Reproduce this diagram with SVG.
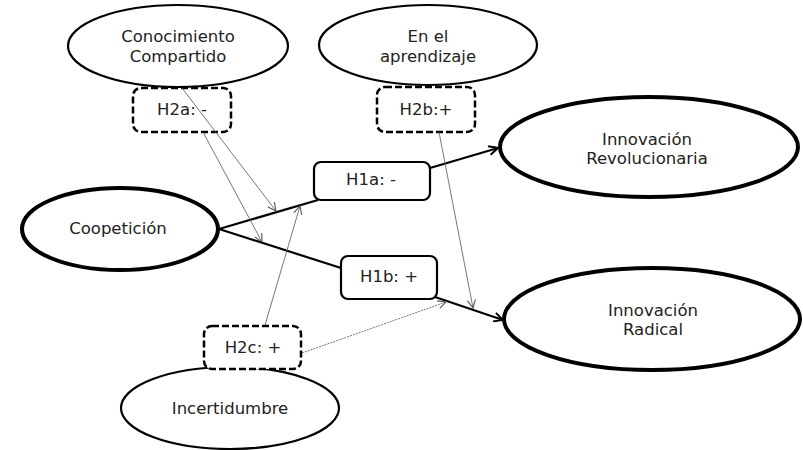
<svg xmlns="http://www.w3.org/2000/svg" width="803" height="450" viewBox="0 0 803 450">
  <style>
    text { font-family: "DejaVu Sans", Verdana, sans-serif; font-size: 16.5px; fill: #222; text-anchor: middle; }
    .ell { fill: #fff; stroke: #000; stroke-width: 2.2; }
    .ell-bold { fill: #fff; stroke: #000; stroke-width: 4; }
    .box { fill: #fff; stroke: #000; stroke-width: 2.2; }
    .box-dash { fill: #fff; stroke: #000; stroke-width: 2.5; stroke-dasharray: 7 3; }
    .main { fill: none; stroke: #000; stroke-width: 2.2; }
    .mod { fill: none; stroke: #666; stroke-width: 0.9; }
    .mod-dot { fill: none; stroke: #777; stroke-width: 1; stroke-dasharray: 2 1; }
  </style>
  <defs>
    <marker id="arrowMain" markerWidth="12" markerHeight="12" refX="10" refY="6" orient="auto" markerUnits="userSpaceOnUse">
      <path d="M1,1.5 L10,6 L1,10.5" fill="none" stroke="#000" stroke-width="2"/>
    </marker>
    <marker id="arrowThin" markerWidth="12" markerHeight="12" refX="10" refY="6" orient="auto" markerUnits="userSpaceOnUse">
      <path d="M2,2 L10,6 L2,10" fill="none" stroke="#555" stroke-width="1.1"/>
    </marker>
  </defs>

  <!-- connectors -->
  <g id="connectors">
    <line class="main" x1="219" y1="229" x2="318" y2="200"/>
    <line class="main" x1="430" y1="168" x2="498" y2="148" marker-end="url(#arrowMain)"/>
    <line class="main" x1="219" y1="229" x2="341" y2="268"/>
    <line class="main" x1="435" y1="297" x2="503" y2="320" marker-end="url(#arrowMain)"/>
  </g>

  <!-- nodes -->
  <g id="conocimiento">
    <ellipse class="ell" cx="178" cy="46" rx="110" ry="41"/>
    <text x="178" y="42">Conocimiento</text>
    <text x="178" y="62">Compartido</text>
  </g>
  <g id="aprendizaje">
    <ellipse class="ell" cx="428" cy="45" rx="109" ry="40"/>
    <text x="428" y="42">En el</text>
    <text x="428" y="62">aprendizaje</text>
  </g>
  <g id="coopeticion">
    <ellipse class="ell-bold" cx="120" cy="229" rx="98" ry="41"/>
    <text x="118" y="234">Coopetición</text>
  </g>
  <g id="incertidumbre">
    <ellipse class="ell" cx="230" cy="408" rx="109" ry="41"/>
    <text x="230" y="414">Incertidumbre</text>
  </g>
  <g id="innovacion-revolucionaria">
    <ellipse class="ell-bold" cx="649" cy="147" rx="149" ry="50"/>
    <text x="647" y="145">Innovación</text>
    <text x="647" y="164">Revolucionaria</text>
  </g>
  <g id="innovacion-radical">
    <ellipse class="ell-bold" cx="652" cy="319" rx="148" ry="51"/>
    <text x="653" y="316">Innovación</text>
    <text x="653" y="335">Radical</text>
  </g>
  <g id="h2a">
    <rect class="box-dash" x="133" y="88" width="98" height="44" rx="8"/>
    <text x="182" y="115">H2a: -</text>
  </g>
  <g id="h2b">
    <rect class="box-dash" x="377" y="87" width="98" height="45" rx="8"/>
    <text x="426" y="115">H2b:+</text>
  </g>
  <g id="h2c">
    <rect class="box-dash" x="204" y="326" width="97" height="43" rx="8"/>
    <text x="253" y="353">H2c: +</text>
  </g>
  <g id="h1a">
    <rect class="box" x="314" y="162" width="116" height="38" rx="7"/>
    <text x="371" y="185">H1a: -</text>
  </g>
  <g id="h1b">
    <rect class="box" x="341" y="256" width="96" height="43" rx="7"/>
    <text x="389" y="282">H1b: +</text>
  </g>

  <!-- moderating effects drawn above the boxes -->
  <g id="moderator-connectors">
    <line class="mod" x1="182" y1="88" x2="276" y2="211" marker-end="url(#arrowThin)"/>
    <line class="mod" x1="203" y1="132" x2="262" y2="242" marker-end="url(#arrowThin)"/>
    <line class="mod" x1="439" y1="132" x2="473" y2="308" marker-end="url(#arrowThin)"/>
    <line class="mod" x1="265" y1="325" x2="300" y2="206" marker-end="url(#arrowThin)"/>
    <line class="mod-dot" x1="302" y1="353" x2="446" y2="302" marker-end="url(#arrowThin)"/>
  </g>
</svg>
